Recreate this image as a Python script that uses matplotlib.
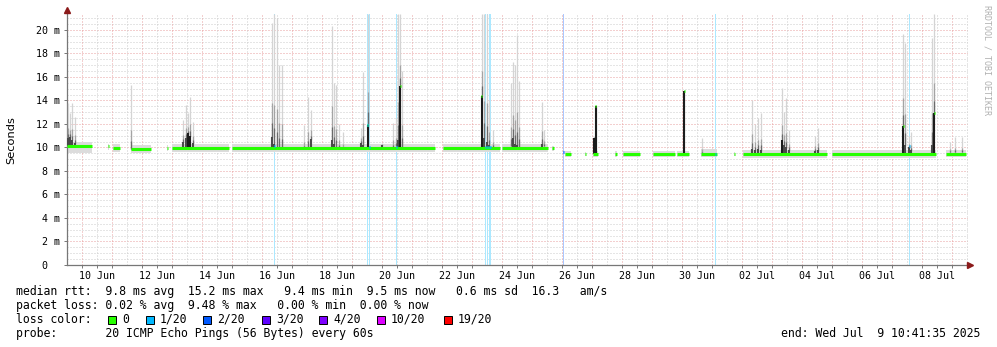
import matplotlib
matplotlib.use("Agg")
import matplotlib.pyplot as plt
from matplotlib.patches import Rectangle
import numpy as np

W, H, DPI = 997, 347, 100
plt.rcParams["font.family"] = "DejaVu Sans Mono"

# time axis: days since 9 Jun 2025 00:00
t_left, t_right = 0.5, 30.533
step = 1 / 30  # one rrd row ~ 48 min

# median rtt runs (ms): start, end, median, smoke low, smoke high
seg_start = [0.50, 1.87, 2.03, 2.63, 3.83, 4.00, 6.00, 13.03, 15.00, 16.67, 17.10,
             17.77, 18.03, 18.77, 19.03, 20.03, 20.83, 21.63, 22.73, 23.03, 26.00, 29.80]
seg_end = [1.33, 1.90, 2.27, 3.30, 3.87, 5.90, 12.77, 14.93, 16.53, 16.73, 17.30,
           17.80, 18.20, 18.83, 19.60, 20.77, 21.23, 22.17, 22.77, 25.83, 29.47, 30.47]
seg_median = [10.1, 10.1, 9.95, 9.87, 9.95, 9.95, 9.95, 9.95, 9.95, 9.95, 9.45,
              9.45, 9.45, 9.45, 9.45, 9.45, 9.45, 9.45, 9.45, 9.45, 9.45, 9.45]
seg_lo = [9.5, 9.8, 9.6, 9.5, 9.7, 9.6, 9.6, 9.6, 9.6, 9.7, 9.2,
          9.3, 9.2, 9.2, 9.2, 9.2, 9.2, 9.2, 9.3, 9.1, 9.1, 9.2]
seg_hi = [10.5, 10.3, 10.3, 10.2, 10.2, 10.3, 10.3, 10.3, 10.3, 10.1, 9.7,
          9.6, 9.7, 9.7, 9.7, 9.7, 9.7, 9.9, 9.6, 9.8, 9.8, 9.8]

# smoke spikes: time, top of the dense (dark) part, top of the slowest ping
spike_t = [0.53, 0.60, 0.67, 0.77, 2.63, 4.37, 4.47, 4.53, 4.60, 4.70,
           7.33, 7.40, 7.50, 7.57, 7.67, 8.40, 8.53, 8.63, 9.33, 9.40,
           9.47, 9.57, 9.70, 10.30, 10.37, 10.53, 11.00, 11.37, 11.47, 11.53,
           11.60, 11.67, 14.33, 14.40, 14.50, 14.57, 14.70, 15.30, 15.37, 15.43,
           15.50, 15.57, 16.33, 16.40, 18.07, 18.13, 21.07, 21.67, 23.33, 23.43,
           23.53, 23.63, 24.33, 24.40, 24.47, 24.57, 25.43, 25.53, 28.37, 28.43,
           28.57, 28.63, 29.33, 29.40, 29.93, 30.10, 30.33]
spike_dark = [10.8, 10.9, 10.6, 10.4, 9.9, 10.5, 10.8, 11.2, 11.0, 10.4,
              10.9, 10.3, 10.0, 10.0, 9.9, 9.9, 10.0, 10.7, 10.6, 10.3,
              10.0, 10.0, 9.9, 10.4, 10.2, 11.9, 10.2, 10.0, 10.1, 10.6,
              15.2, 10.0, 14.4, 10.8, 10.5, 10.2, 10.0, 10.1, 10.8, 10.3,
              10.2, 10.0, 10.3, 10.1, 10.8, 13.5, 14.8, 9.5, 9.9, 9.8,
              9.9, 9.8, 10.6, 10.2, 10.0, 9.8, 9.7, 9.8, 11.8, 10.2,
              10.0, 9.8, 10.2, 12.9, 9.6, 9.6, 9.6]
spike_top = [13.8, 12.9, 13.8, 12.6, 15.3, 12.3, 13.6, 12.9, 14.3, 12.2,
             20.6, 21.4, 21.0, 17.0, 17.0, 11.9, 14.3, 13.2, 20.3, 15.5,
             15.3, 12.0, 11.3, 11.7, 16.4, 21.4, 10.4, 12.1, 12.5, 21.4,
             21.4, 16.5, 21.4, 21.4, 21.4, 14.0, 11.5, 15.5, 17.3, 17.0,
             19.6, 15.7, 13.9, 11.5, 11.0, 13.6, 14.9, 10.8, 14.0, 12.0,
             12.5, 12.9, 15.1, 13.0, 14.2, 11.5, 11.0, 11.7, 19.7, 18.9,
             11.0, 11.3, 19.3, 21.4, 10.5, 10.9, 10.9]

# rows with packet loss: time, lost pings (of 20), median at that time
loss_t = [7.42, 10.53, 10.57, 11.47, 14.45, 14.53, 14.57, 14.60, 17.05, 22.10, 28.58]
loss_n = [1, 1, 1, 1, 1, 1, 1, 1, 2, 1, 1]
loss_rtt = [10.1, 11.9, 10.0, 10.0, 10.0, 10.0, 10.0, 10.0, 9.6, 9.45, 10.1]

loss_keys = ["0", "1/20", "2/20", "3/20", "4/20", "10/20", "19/20"]
loss_colors = ["#26ff00", "#00b8ff", "#0059ff", "#5e00ff", "#7e00ff", "#dd00ff", "#ff0000"]
loss_box_x = [108, 146, 203, 262, 319, 377, 444]

date_t = [1.5, 3.5, 5.5, 7.5, 9.5, 11.5, 13.5, 15.5, 17.5, 19.5, 21.5, 23.5, 25.5, 27.5, 29.5]
date_labels = ["10 Jun", "12 Jun", "14 Jun", "16 Jun", "18 Jun", "20 Jun", "22 Jun", "24 Jun",
               "26 Jun", "28 Jun", "30 Jun", "02 Jul", "04 Jul", "06 Jul", "08 Jul"]

RED_GRID = "#e8a0a0"
GRAY_GRID = "#cccccc"
dots = (0, (1, 2))


def lighten(c, a):
    rgb = np.array(matplotlib.colors.to_rgb(c))
    return tuple(1 - a * (1 - rgb))


def median_at(t):
    for s, e, m in zip(seg_start, seg_end, seg_median):
        if s - step <= t <= e + step:
            return m
    return 9.95 if t < 17 else 9.45


fig = plt.figure(figsize=(W / DPI, H / DPI), dpi=DPI)
ax = fig.add_axes([67 / W, 1 - 265 / H, 901 / W, 251 / H])
ax.set_xlim(t_left, t_right)
ax.set_ylim(0, 21.36)

# grid
for v in np.arange(0.5, 21.4, 0.5):
    major = abs(v / 2 - round(v / 2)) < 1e-6
    ax.axhline(v, color=RED_GRID if major else GRAY_GRID, lw=0.72, ls=dots, zorder=0)
for d in np.arange(1, 31):
    ax.axvline(d, color=RED_GRID, lw=0.72, ls=dots, zorder=0)
for d in np.arange(1.5, 30.6, 1):
    ax.axvline(d, color=GRAY_GRID, lw=0.72, ls=dots, zorder=0)

# loss background
for t, n in zip(loss_t, loss_n):
    c = loss_colors[min(n, 6)]
    ax.axvspan(t - step / 2, t + step / 2, color=lighten(c, 0.33), lw=0, zorder=1)

# smoke band around the median
for s, e, lo, hi in zip(seg_start, seg_end, seg_lo, seg_hi):
    ax.fill_between([s, e], lo, hi, color="#dcdcdc", lw=0, zorder=2)

# smoke spikes
for t, dk, tp in zip(spike_t, spike_dark, spike_top):
    base = median_at(t)
    ax.vlines(t, base, tp, color="#d4d4d4", lw=0.9, zorder=3)
    mid = dk + 0.3 * (tp - dk)
    ax.vlines(t, dk, mid, color="#a4a4a4", lw=0.9, zorder=3)
    ax.vlines(t, dk, dk + 0.12 * (tp - dk), color="#6a6a6a", lw=0.9, zorder=3)
    if dk > base + 0.2:
        shade = "#1c1c1c" if dk > base + 1.0 else "#4a4a4a"
        ax.vlines(t, base, dk, color=shade, lw=1.5, zorder=4)
    if dk > 11.3:
        ax.hlines(dk, t - step / 2, t + step / 2, color=loss_colors[0], lw=2.0, zorder=5)

# median line
for s, e, m in zip(seg_start, seg_end, seg_median):
    ax.hlines(m, s, e, color=loss_colors[0], lw=2.2, zorder=5)

# median rows with loss
for t, n, r in zip(loss_t, loss_n, loss_rtt):
    ax.hlines(r, t - step / 2, t + step / 2, color=loss_colors[min(n, 6)], lw=2.2, zorder=6)

# axes
for side in ["top", "right"]:
    ax.spines[side].set_visible(False)
for side in ["left", "bottom"]:
    ax.spines[side].set_color("#777777")
    ax.spines[side].set_linewidth(0.9)
ax.set_yticks(np.arange(0, 21, 2))
ax.set_yticklabels(["0  "] + ["%d m" % v for v in range(2, 21, 2)])
ax.set_xticks(date_t)
ax.set_xticklabels(date_labels)
ax.set_xticks(np.arange(1, 31), minor=True)
ax.tick_params(axis="both", which="both", direction="out", length=2.5, width=0.7,
               color="#777777", labelsize=7.2, labelcolor="black")
ax.tick_params(axis="y", pad=2.5)
ax.tick_params(axis="x", pad=2.0)

ax.plot([t_left], [21.7], marker="^", ms=5, color="#8b1a1a", clip_on=False, zorder=10)
ax.plot([t_right + 0.07], [0], marker=">", ms=5, color="#8b1a1a", clip_on=False, zorder=10)

fig.text(11 / W, 1 - 140 / H, "Seconds", rotation=90, ha="center", va="center",
         fontsize=8.2, family="DejaVu Sans")
fig.text(987 / W, 1 - 60 / H, "RRDTOOL / TOBI OETIKER", rotation=270, ha="center", va="center",
         fontsize=6, color="#b0b0b0")


def put(x, y, s, **kw):
    fig.text(x / W, 1 - y / H, s, va="center", fontsize=8.3, **kw)


put(16, 291.5, "median rtt:  9.8 ms avg  15.2 ms max   9.4 ms min  9.5 ms now   0.6 ms sd  16.3   am/s")
put(16, 305.5, "packet loss: 0.02 % avg  9.48 % max   0.00 % min  0.00 % now")
put(16, 319.5, "loss color:")
for bx, key, col in zip(loss_box_x, loss_keys, loss_colors):
    fig.add_artist(Rectangle((bx / W, 1 - 323.5 / H), 8 / W, 8 / H, transform=fig.transFigure,
                             facecolor=col, edgecolor="black", lw=0.7))
    put(bx + 14, 319.5, key)
put(16, 333.5, "probe:       20 ICMP Echo Pings (56 Bytes) every 60s")
put(980, 333.5, "end: Wed Jul  9 10:41:35 2025", ha="right")

fig.savefig("out.png", dpi=DPI, facecolor="white")
